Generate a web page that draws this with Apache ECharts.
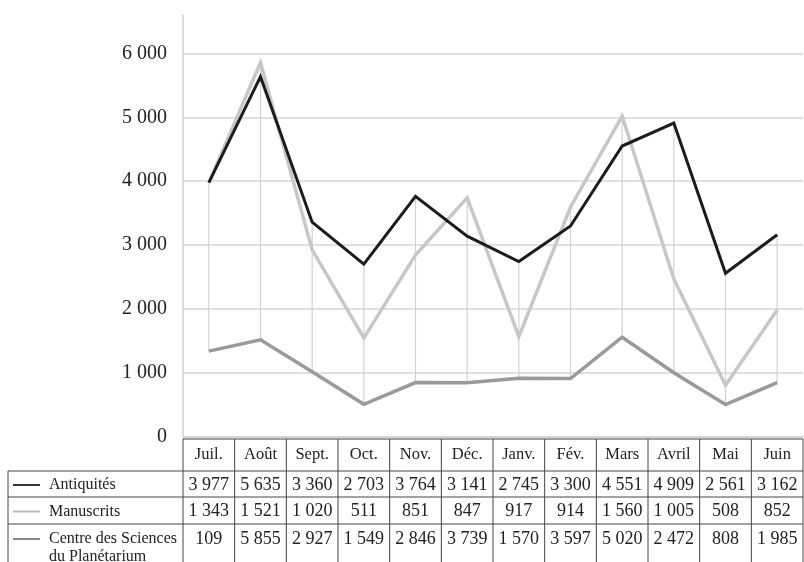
<!DOCTYPE html>
<html>
<head>
<meta charset="utf-8">
<script src="https://cdn.jsdelivr.net/npm/echarts@6/dist/echarts.min.js"></script>
<style>
  html, body { margin: 0; padding: 0; background: #fff; }
  #chart { width: 804px; height: 562px; }
</style>
</head>
<body>
<div id="chart"></div>
<script>
const months = ['Juil.', 'Août', 'Sept.', 'Oct.', 'Nov.', 'Déc.', 'Janv.', 'Fév.', 'Mars', 'Avril', 'Mai', 'Juin'];
const antiquites = [3977, 5635, 3360, 2703, 3764, 3141, 2745, 3300, 4551, 4909, 2561, 3162];
const manuscrits = [1343, 1521, 1020, 511, 851, 847, 917, 914, 1560, 1005, 508, 852];
// light grey line (first point sits on the Antiquités point)
const centre = [3977, 5855, 2927, 1549, 2846, 3739, 1570, 3597, 5020, 2472, 808, 1985];
const yTicks = [0, 1000, 2000, 3000, 4000, 5000, 6000];

const FONT = 'Liberation Serif';
const SP = '\u00a0';

function fmt(v) {
    return String(v).replace(/\B(?=(\d{3})+(?!\d))/g, SP);
}

// the printed table shows "109" for July in the last row
const centreCells = centre.map(fmt);
centreCells[0] = '109';

const rows = [
    {label: ['Antiquités'], color: '#333', cells: antiquites.map(fmt)},
    {label: ['Manuscrits'], color: '#bcbcbc', cells: manuscrits.map(fmt)},
    {label: ['Centre des Sciences', 'du Planétarium'], color: '#888', cells: centreCells}
];

// high-low drop lines between the three series
const hiLow = months.map((m, i) => {
    const vals = [antiquites[i], manuscrits[i], centre[i]];
    return [i, Math.min(...vals), Math.max(...vals)];
});

const chart = echarts.init(document.getElementById('chart'));

const option = {
    animation: false,
    backgroundColor: '#fff',
    grid: {left: 183, right: 1, top: 15, bottom: 125},
    xAxis: {
        type: 'category',
        data: months,
        boundaryGap: true,
        axisTick: {show: false},
        axisLabel: {show: false},
        axisLine: {lineStyle: {color: '#d0d0d0', width: 1.5}}
    },
    yAxis: {
        type: 'value',
        min: 0,
        max: 6600,
        interval: 1000,
        axisLine: {show: true, lineStyle: {color: '#d0d0d0', width: 1.5}},
        axisTick: {show: false},
        axisLabel: {
            showMaxLabel: false,
            margin: 16,
            fontFamily: FONT,
            fontSize: 20,
            color: '#222',
            formatter: v => (yTicks.includes(v) ? fmt(v) : '')
        },
        splitLine: {showMaxLine: false, lineStyle: {color: '#d6d6d6', width: 1.5}}
    },
    series: [
        {
            type: 'custom',
            data: hiLow,
            silent: true,
            renderItem: (params, api) => {
                const lo = api.coord([api.value(0), api.value(1)]);
                const hi = api.coord([api.value(0), api.value(2)]);
                return {
                    type: 'line',
                    shape: {x1: lo[0], y1: lo[1], x2: hi[0], y2: hi[1]},
                    style: {stroke: '#d2d2d2', lineWidth: 1.2}
                };
            }
        },
        {
            name: 'Centre des Sciences du Planétarium',
            type: 'line',
            data: centre,
            symbol: 'none',
            lineStyle: {color: '#c6c8c8', width: 3.5, join: 'miter'}
        },
        {
            name: 'Manuscrits',
            type: 'line',
            data: manuscrits,
            symbol: 'none',
            lineStyle: {color: '#9a9a9a', width: 3.5, join: 'miter'}
        },
        {
            name: 'Antiquités',
            type: 'line',
            data: antiquites,
            symbol: 'none',
            lineStyle: {color: '#1c1c1c', width: 3, join: 'miter'}
        }
    ]
};

chart.setOption(option);

// data table below the plot, columns aligned with the category axis
const c0 = chart.convertToPixel({xAxisIndex: 0}, 0);
const c1 = chart.convertToPixel({xAxisIndex: 0}, 1);
const colW = c1 - c0;
const tableLeft = c0 - colW / 2;
const tableRight = tableLeft + colW * months.length;
const rowY = [439, 471, 497, 524, 562];
const legendX = 8;
const border = {stroke: '#444', lineWidth: 1};

const els = [];
const hline = (x1, x2, y) => els.push({type: 'line', shape: {x1, y1: y, x2, y2: y}, style: border});
const vline = (x, y1, y2) => els.push({type: 'line', shape: {x1: x, y1, x2: x, y2}, style: border});
const txt = (x, y, text, size, align) => els.push({
    type: 'text', x, y,
    style: {text, fontFamily: FONT, fontSize: size, fill: '#222', align: align || 'center', verticalAlign: 'middle'}
});

hline(tableLeft, tableRight, rowY[0]);
for (let r = 1; r < 4; r++) hline(legendX, tableRight, rowY[r]);
vline(legendX, rowY[1], rowY[4]);
for (let k = 0; k <= months.length; k++) vline(tableLeft + k * colW, rowY[0], rowY[4]);

months.forEach((m, i) => txt(tableLeft + (i + 0.5) * colW, 455, m, 16.5));

rows.forEach((row, r) => {
    const top = rowY[r + 1];
    const yMid = r < 2 ? (top + rowY[r + 2]) / 2 + 1 : top + 15;
    els.push({type: 'line', shape: {x1: 13, y1: yMid, x2: 40, y2: yMid}, style: {stroke: row.color, lineWidth: 2}});
    row.label.forEach((t, j) => txt(49, yMid + j * 18, t, 16, 'left'));
    row.cells.forEach((c, i) => txt(tableLeft + (i + 0.5) * colW, yMid, c, 18));
});

chart.setOption({graphic: {elements: els}});
</script>
</body>
</html>
